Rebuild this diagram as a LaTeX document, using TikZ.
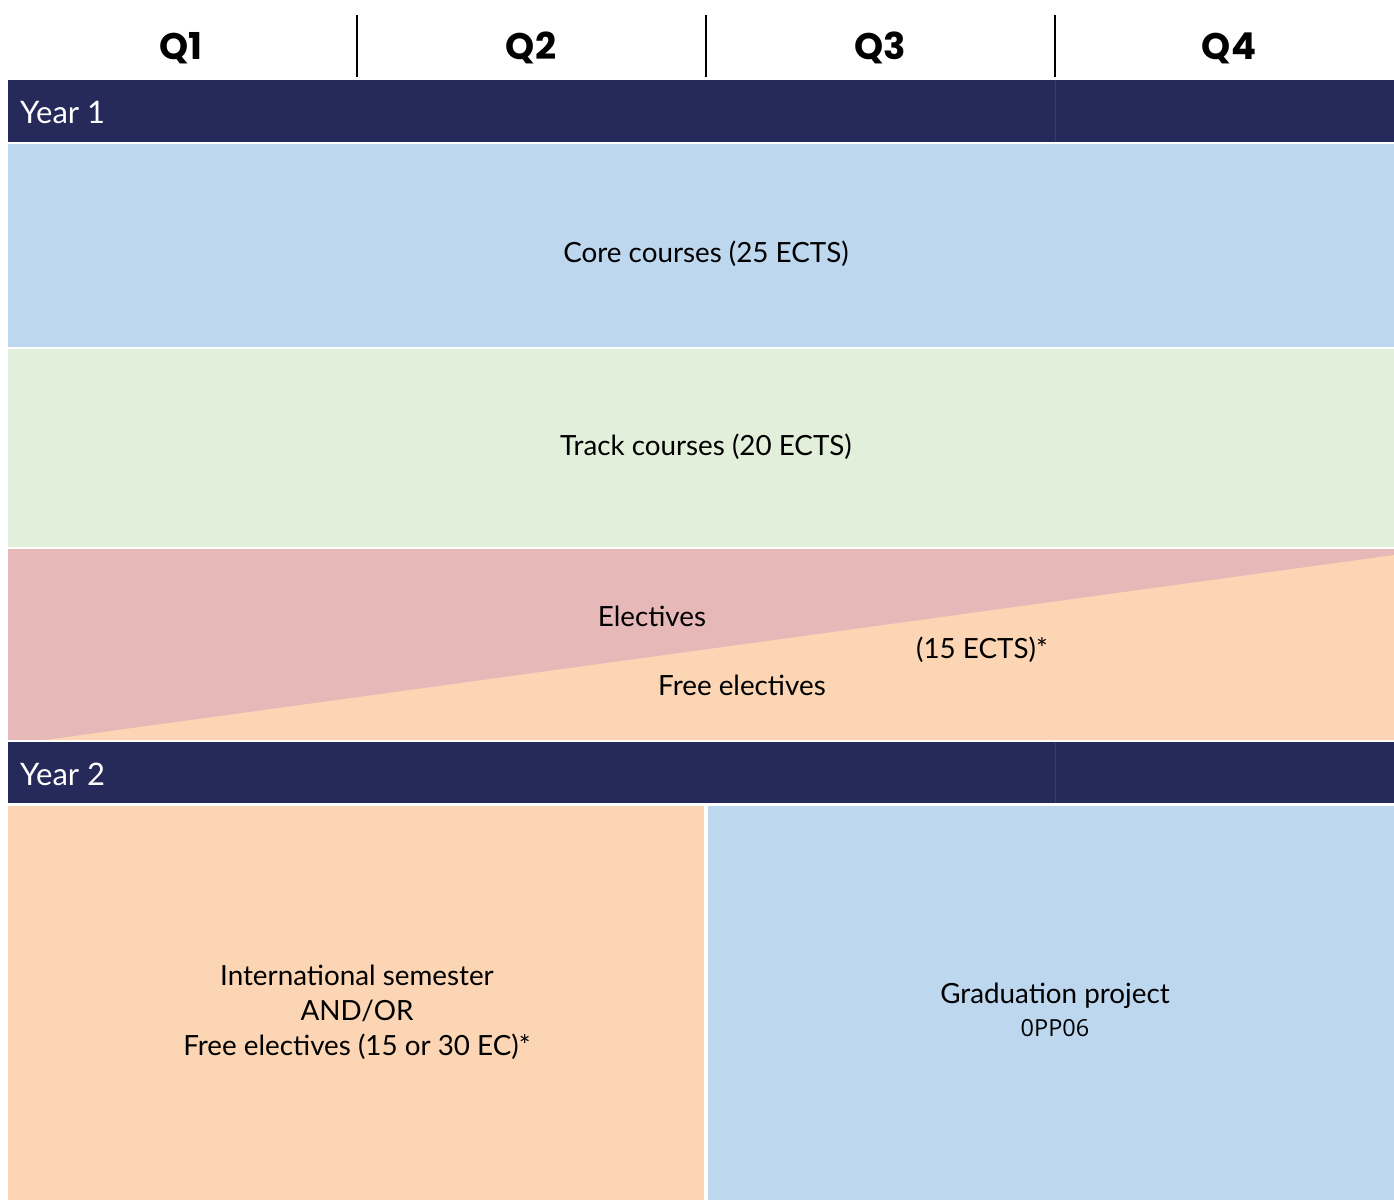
\documentclass[tikz,border=0pt]{standalone}
\usepackage{fontspec}
\setmainfont{Lato}
\newfontfamily\qfont{Poppins}
\newfontfamily\codefont{Open Sans}
\definecolor{navy}{RGB}{37,42,90}
\definecolor{coreblue}{RGB}{189,215,238}
\definecolor{trackgreen}{RGB}{226,239,218}
\definecolor{elecpink}{RGB}{230,184,183}
\definecolor{peach}{RGB}{252,213,180}
\tikzset{
  qlabel/.style={font=\qfont\bfseries\fontsize{37}{40}\selectfont, text=black, inner sep=0pt},
  body/.style={font=\fontsize{27.8}{35}\selectfont, text=black, inner sep=0pt, align=center},
  yearlabel/.style={font=\fontsize{31}{34}\selectfont, text=white, inner sep=0pt, anchor=west},
  divider/.style={line width=2pt, black},
  faint/.style={line width=0.8pt, navy!92!white}
}
\begin{document}
\begin{tikzpicture}[x=1pt,y=-1pt]
\useasboundingbox[fill=white] (0,0) rectangle (1394,1200);
% header
\node[qlabel] (q1) at (181,48) {Q1};
\node[qlabel] (q2) at (531,48) {Q2};
\node[qlabel] (q3) at (880,48) {Q3};
\node[qlabel] (q4) at (1229,48) {Q4};
\draw[divider] (357,15) -- (357,77);
\draw[divider] (706,15) -- (706,77);
\draw[divider] (1055,15) -- (1055,77);
% Year 1
\fill[navy] (8,80) rectangle (1394,142);
\draw[faint] (1055,80) -- (1055,142);
\node[yearlabel] (y1) at (20,112) {Year 1};
\fill[coreblue] (8,144) rectangle (1394,347);
\node[body] (core) at (706,254) {Core courses (25 ECTS)};
\fill[trackgreen] (8,349) rectangle (1394,547);
\node[body] (track) at (706,447) {Track courses (20 ECTS)};
\fill[elecpink] (8,549) rectangle (1394,740);
\fill[peach] (45,740) -- (1394,555) -- (1394,740) -- cycle;
\node[body] (elec) at (652,616) {Electives};
\node[body] (ects) at (982,650) {(15 ECTS)*};
\node[body] (free) at (742,685) {Free electives};
% Year 2
\fill[navy] (8,742) rectangle (1394,803);
\draw[faint] (1055,742) -- (1055,803);
\node[yearlabel] (y2) at (20,774) {Year 2};
\fill[peach] (8,806) rectangle (704,1200);
\node[body] (intl) at (357,1012) {International semester\\AND/OR\\Free electives (15 or 30 EC)*};
\fill[coreblue] (708,806) rectangle (1394,1200);
\node[body] (grad) at (1055,996) {Graduation project};
\node[font=\codefont\fontsize{23.5}{26}\selectfont, inner sep=0pt] (code) at (1055,1028) {0PP06};
\end{tikzpicture}
\end{document}
